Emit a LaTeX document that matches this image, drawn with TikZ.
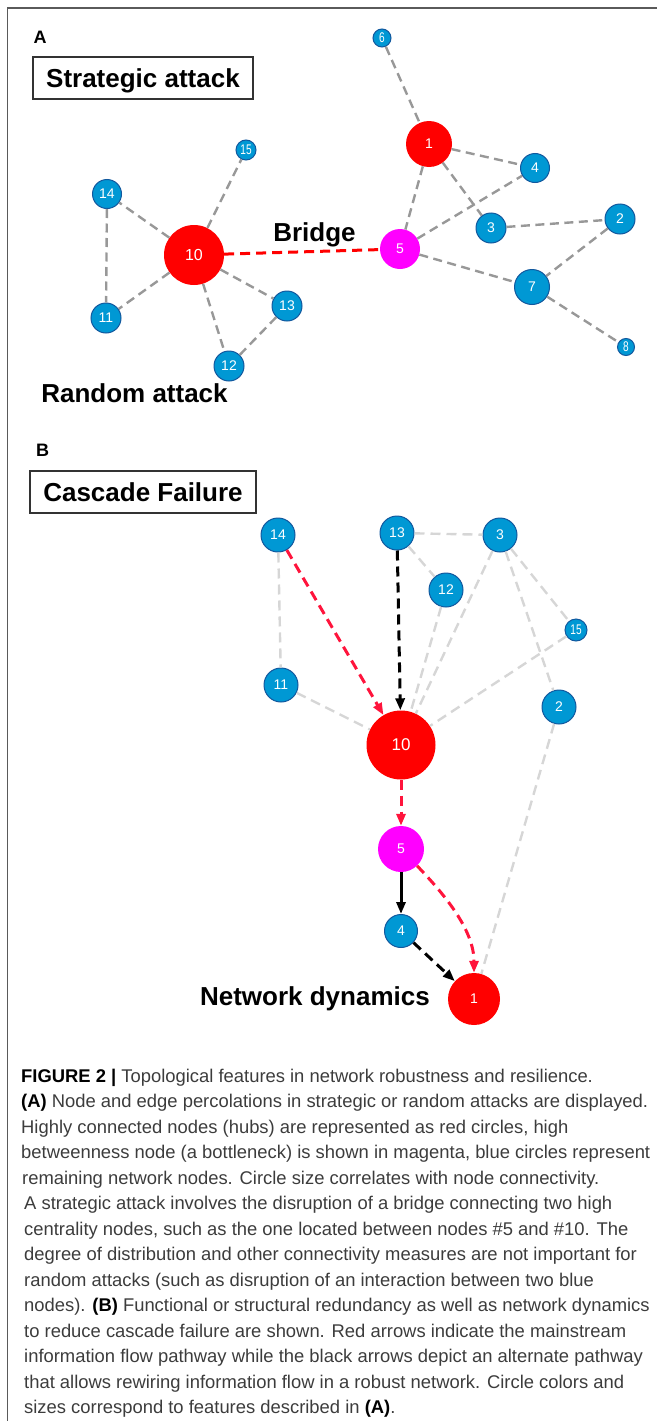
\documentclass[tikz,border=0pt]{standalone}
\usepackage{fontspec}
\setmainfont{Liberation Sans}
\usepackage{graphicx}
\usetikzlibrary{arrows.meta}

\definecolor{nodeblue}{RGB}{0,152,212}
\definecolor{nodeedge}{RGB}{18,88,158}
\definecolor{hubred}{RGB}{255,0,0}
\definecolor{bneckmag}{RGB}{255,0,255}
\definecolor{edgeA}{RGB}{152,152,152}
\definecolor{edgeB}{RGB}{214,214,214}
\definecolor{flowred}{RGB}{255,20,60}
\definecolor{captext}{RGB}{60,60,60}
\definecolor{framegray}{RGB}{90,90,90}

\newcommand\numfont{\fontsize{14}{14}\selectfont}
\newcommand\bignum{\fontsize{16}{16}\selectfont}
\newcommand\tagfont{\bfseries\fontsize{26}{26}\selectfont}
\newcommand\panelfont{\bfseries\fontsize{18}{18}\selectfont}
\newcommand\capfont{\fontsize{18.4}{18.4}\selectfont}
\newcommand\narrow[1]{\scalebox{0.72}[1]{#1}}

\tikzset{
  hub/.style={circle, fill=hubred, inner sep=0pt, minimum size=#1, text=white, font=\numfont},
  bneck/.style={circle, fill=bneckmag, inner sep=0pt, minimum size=#1, text=white, font=\numfont},
  leaf/.style={circle, fill=nodeblue, draw=nodeedge, line width=1pt, inner sep=0pt, minimum size=#1, text=white, font=\numfont},
  linkA/.style={draw=edgeA, line width=2.4pt, dash pattern=on 9pt off 5.5pt},
  linkB/.style={draw=edgeB, line width=2.4pt, dash pattern=on 10pt off 6pt},
  bridgelink/.style={draw=hubred, line width=3pt, dash pattern=on 10pt off 6pt},
  tip/.style={-{Triangle[length=12pt,width=9pt]}},
  mainflow/.style={draw=flowred, line width=3pt, dash pattern=on 10pt off 6pt, tip},
  altflow/.style={draw=black, line width=3pt, dash pattern=on 10pt off 6pt, tip},
  tagbox/.style={draw=black!80, line width=1.2pt, inner sep=0pt, minimum height=42pt, text depth=0pt, font=\tagfont},
  tagtext/.style={inner sep=0pt, font=\tagfont},
  panel/.style={anchor=base west, inner sep=0pt, font=\panelfont},
  capline/.style={anchor=base west, inner sep=0pt, text=captext, font=\capfont},
}

\begin{document}
\begin{tikzpicture}[x=1pt, y=-1pt]
\useasboundingbox (0,0) rectangle (657,1421);

% outer frame
\draw[framegray, line width=1.2pt] (7.5,1421) -- (7.5,8) -- (657,8);

% ---------------- panel A ----------------
\node[panel] (labA) at (33.5,43.3) {A};
\node[tagbox, minimum width=220pt] (strat) at (143,78) {Strategic attack};

\node[leaf=18pt]  (n6)  at (382,38)  {\narrow{6}};
\node[hub=46pt]   (n1)  at (429,144) {1};
\node[leaf=20pt]  (n15) at (246,150) {\narrow{15}};
\node[leaf=29pt]  (n4)  at (535,168) {4};
\node[leaf=29pt]  (n14) at (107,194) {14};
\node[leaf=30pt]  (n2)  at (620,219) {2};
\node[leaf=30pt]  (n3)  at (491,228) {3};
\node[hub=60pt, font=\bignum] (n10) at (194,255) {10};
\node[bneck=40pt] (n5)  at (400,249) {5};
\node[leaf=35pt]  (n7)  at (532,287) {7};
\node[leaf=30pt]  (n11) at (106,318) {11};
\node[leaf=30pt]  (n13) at (287,306) {13};
\node[leaf=30pt]  (n12) at (229,366) {12};
\node[leaf=17pt]  (n8)  at (626,347) {\narrow{8}};

\draw[linkA] (n6) -- (n1);
\draw[linkA] (n1) -- (n4);
\draw[linkA] (n1) -- (n3);
\draw[linkA] (n1) -- (n5);
\draw[linkA] (n5) -- (n4);
\draw[linkA] (n3) -- (n2);
\draw[linkA] (n2) -- (n7);
\draw[linkA] (n5) -- (n7);
\draw[linkA] (n7) -- (n8);
\draw[linkA] (n10) -- (n15);
\draw[linkA] (n10) -- (n14);
\draw[linkA] (n14) -- (n11);
\draw[linkA] (n10) -- (n11);
\draw[linkA] (n10) -- (n13);
\draw[linkA] (n10) -- (n12);
\draw[linkA] (n13) -- (n12);
\draw[bridgelink] (n10) -- (n5);

\node[tagtext, anchor=base] (bridge) at (314.5,241) {Bridge};
\node[tagtext, anchor=base] (random) at (134.5,402) {Random attack};

% ---------------- panel B ----------------
\node[panel] (labB) at (36,456) {B};
\node[tagbox, minimum width=226pt] (cascade) at (143,492) {Cascade Failure};

\begin{scope}[every node/.append style={font=\fontsize{15}{15}\selectfont}]
\node[leaf=34pt]  (b14) at (278,535) {14};
\node[leaf=34pt]  (b13) at (397,533) {13};
\node[leaf=34pt]  (b3)  at (500,535) {3};
\node[leaf=34pt]  (b12) at (446,590) {12};
\node[leaf=22pt]  (b15) at (576,630) {\narrow{15}};
\node[leaf=34pt]  (b11) at (281,685) {11};
\node[leaf=34pt]  (b2)  at (559,707) {2};
\node[hub=69pt, font=\fontsize{17}{17}\selectfont] (b10) at (401,745) {10};
\node[bneck=46pt] (b5)  at (401,849) {5};
\node[leaf=33pt]  (b4)  at (401,931) {4};
\node[hub=52pt]   (b1)  at (474,999) {1};
\end{scope}

\draw[linkB] (b14) -- (b11);
\draw[linkB] (b11) -- (b10);
\draw[linkB] (b13) -- (b3);
\draw[linkB] (b13) -- (b12);
\draw[linkB] (b12) -- (b10);
\draw[linkB] (b3) -- (b10);
\draw[linkB] (b3) -- (b15);
\draw[linkB] (b3) -- (b2);
\draw[linkB] (b15) -- (b10);
\draw[linkB] (b2) -- (b1);

\coordinate (bendA) at (445,895);
\coordinate (bendB) at (474,930);
\draw[mainflow] (b14) -- (b10);
\draw[altflow] (b13) -- (b10);
\draw[mainflow] (b10) -- (b5);
\draw[altflow, solid] (b5) -- (b4);
\draw[altflow] (b4) -- (b1);
\draw[mainflow] (b5) .. controls (bendA) and (bendB) .. (b1);

\node[tagtext, anchor=base east] (dyn) at (430,1005.7) {Network dynamics};

% ---------------- caption ----------------
\node[capline] (c1)  at (21,1082.0) {\textcolor{black}{\textbf{FIGURE 2 |}} Topological features in network robustness and resilience.};
\node[capline] (c2)  at (21,1107.5) {\textcolor{black}{\textbf{(A)}} Node and edge percolations in strategic or random attacks are displayed.};
\node[capline] (c3)  at (21,1133.0) {Highly connected nodes (hubs) are represented as red circles, high};
\node[capline] (c4)  at (21,1158.5) {betweenness node (a bottleneck) is shown in magenta, blue circles represent};
\node[capline] (c5)  at (22,1184.0) {remaining network nodes. Circle size correlates with node connectivity.};
\node[capline] (c6)  at (24,1209.5) {A strategic attack involves the disruption of a bridge connecting two high};
\node[capline] (c7)  at (24,1235.0) {centrality nodes, such as the one located between nodes \#5 and \#10. The};
\node[capline] (c8)  at (24,1260.5) {degree of distribution and other connectivity measures are not important for};
\node[capline] (c9)  at (24,1286.0) {random attacks (such as disruption of an interaction between two blue};
\node[capline] (c10) at (24,1311.5) {nodes). \textcolor{black}{\textbf{(B)}} Functional or structural redundancy as well as network dynamics};
\node[capline] (c11) at (24,1337.0) {to reduce cascade failure are shown. Red arrows indicate the mainstream};
\node[capline] (c12) at (24,1362.5) {information flow pathway while the black arrows depict an alternate pathway};
\node[capline] (c13) at (24,1388.0) {that allows rewiring information flow in a robust network. Circle colors and};
\node[capline] (c14) at (24,1413.5) {sizes correspond to features described in \textcolor{black}{\textbf{(A)}}.};
\end{tikzpicture}
\end{document}
